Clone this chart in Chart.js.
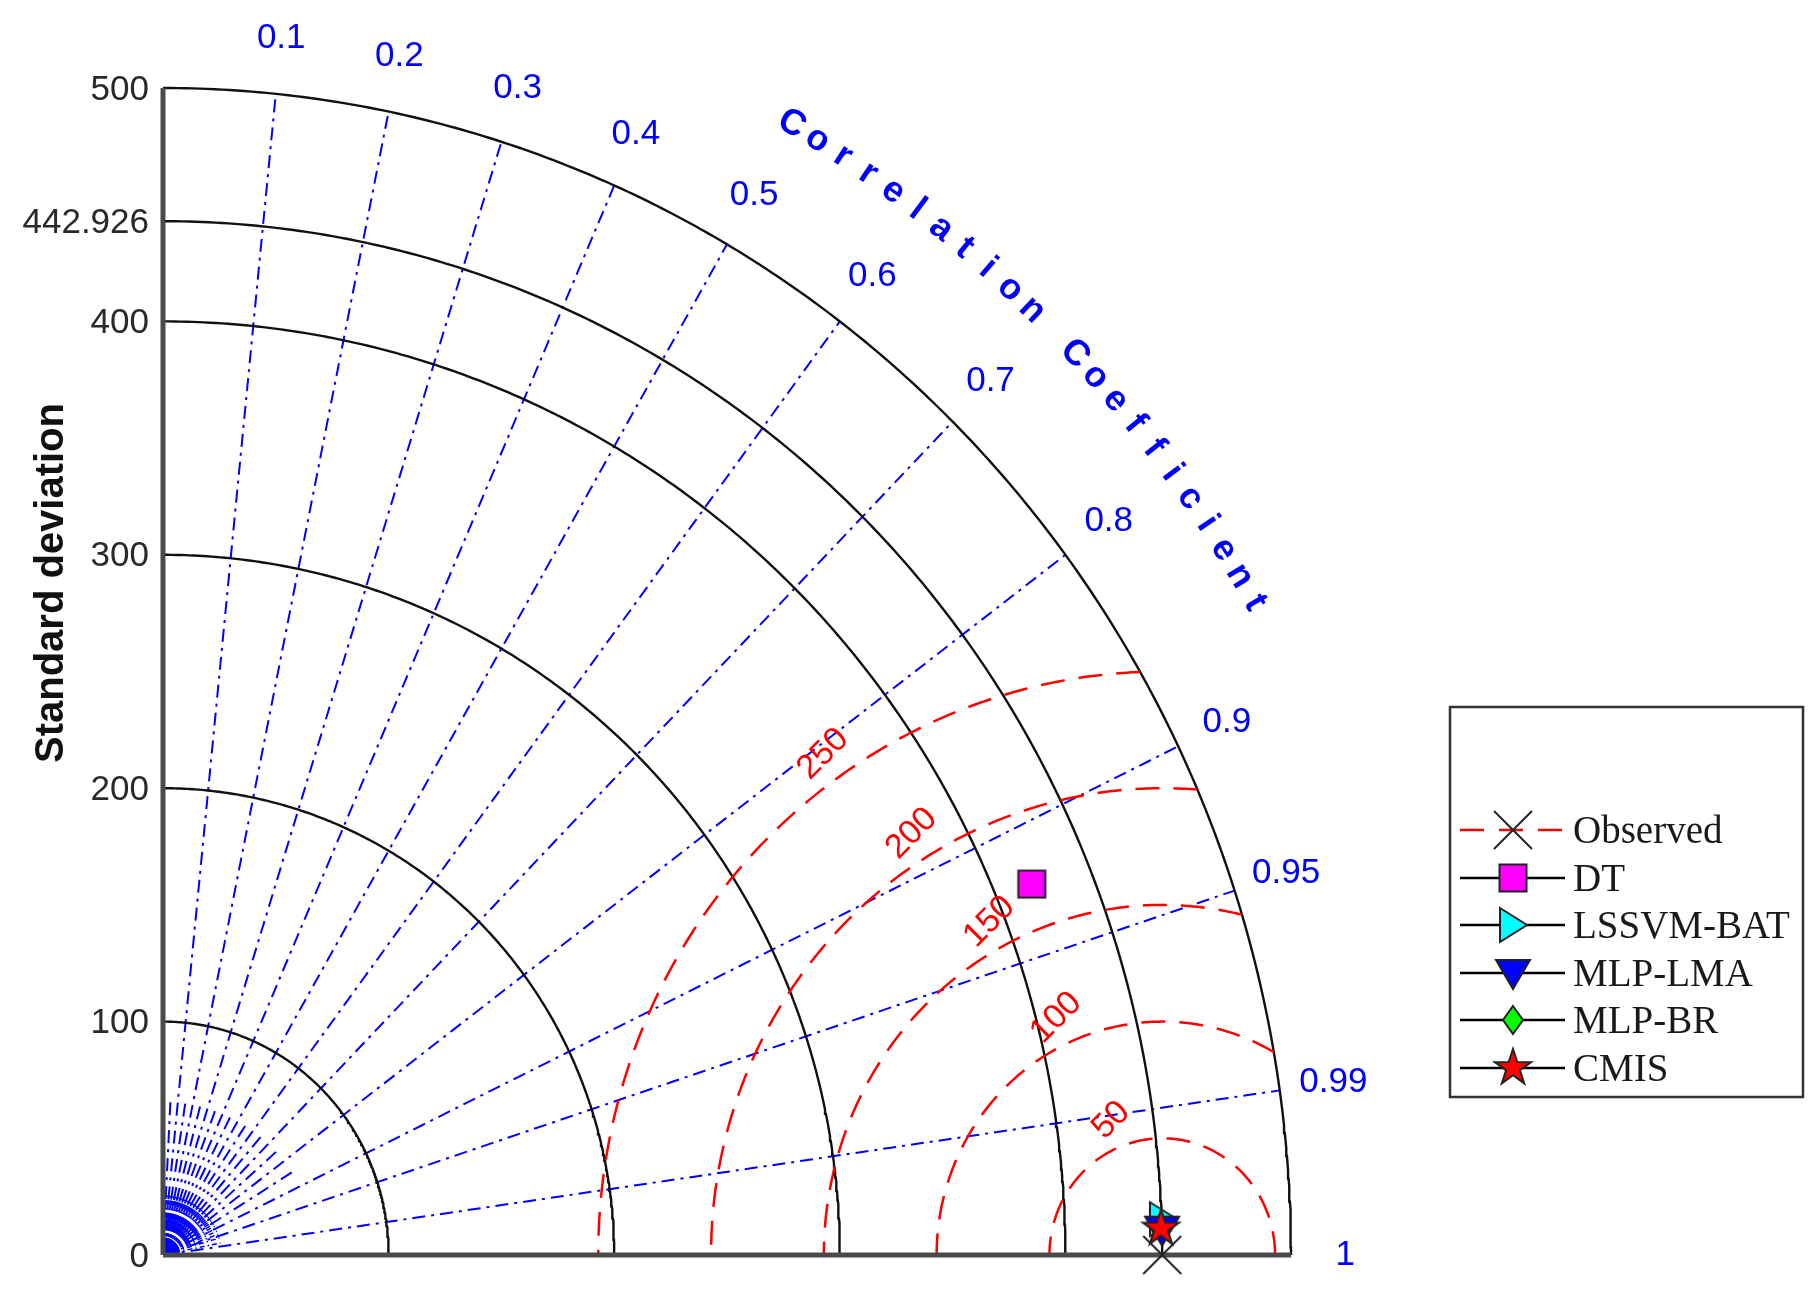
<!DOCTYPE html>
<html lang="en">
<head>
  <meta charset="UTF-8">
  <title>Taylor diagram</title>
  <script src="https://cdn.jsdelivr.net/npm/chart.js"></script>
  <style>
    body { margin: 0; background: #fff; }
    #wrap { width: 1820px; height: 1299px; }
  </style>
</head>
<body>
  <div id="wrap"><canvas id="taylor" width="1820" height="1299"></canvas></div>

  <script>
    // ---- data ----
    const models = ["DT", "LSSVM-BAT", "MLP-LMA", "MLP-BR", "CMIS"];
    const modelStd = [416.6, 443.5, 443.0, 442.5, 442.5];
    const modelCorr = [0.9244, 0.9994, 0.9997, 0.99967, 0.99967];
    const obsLabel = "Observed";
    const obsStd = 442.926;

    const stdTicks = [0, 100, 200, 300, 400, 442.926, 500];
    const stdArcs = [100, 200, 300, 400, 442.926, 500];
    const corrTicks = [0.1, 0.2, 0.3, 0.4, 0.5, 0.6, 0.7, 0.8, 0.9, 0.95, 0.99];
    const corrMinor = [0.05, 0.15, 0.25, 0.35, 0.45, 0.55, 0.65, 0.75, 0.85];
    const rmsLevels = [50, 100, 150, 200, 250];
    const stdMax = 500;

    const BLUE = "#0000ff";
    const RED = "#ff0000";
    const SANS = "'Liberation Sans', Arial, sans-serif";
    const SERIF = "'Liberation Serif', 'Times New Roman', serif";

    // marker images (MATLAB-like symbols)
    function marker(kind, fill) {
      const c = document.createElement("canvas");
      c.width = 46; c.height = 46;
      const g = c.getContext("2d");
      g.translate(23, 23);
      g.lineWidth = 2;
      g.strokeStyle = "#222";
      g.fillStyle = fill;
      g.beginPath();
      if (kind === "square") g.rect(-13.5, -13.5, 27, 27);
      else if (kind === "right") { g.moveTo(-13, -17); g.lineTo(14, 0); g.lineTo(-13, 17); g.closePath(); }
      else if (kind === "down") { g.moveTo(-17, -13); g.lineTo(17, -13); g.lineTo(0, 16); g.closePath(); }
      else if (kind === "diamond") { g.moveTo(0, -14); g.lineTo(10, 0); g.lineTo(0, 14); g.lineTo(-10, 0); g.closePath(); }
      else if (kind === "star") {
        for (let i = 0; i < 10; i++) {
          const r = i % 2 ? 7.3 : 19;
          const a = -Math.PI / 2 + i * Math.PI / 5;
          g.lineTo(r * Math.cos(a), r * Math.sin(a));
        }
        g.closePath();
      } else if (kind === "x") {
        g.moveTo(-19, -19); g.lineTo(19, 19);
        g.moveTo(19, -19); g.lineTo(-19, 19);
        g.stroke();
        return c;
      }
      g.fill();
      g.stroke();
      return c;
    }

    const modelMarkers = [
      marker("square", "#ff00ff"),
      marker("right", "#00ffff"),
      marker("down", "#0000ff"),
      marker("diamond", "#00ff00"),
      marker("star", "#ff0000")
    ];
    const obsMarker = marker("x", "#000");

    const polar = (s, c) => ({ x: s * c, y: s * Math.sqrt(Math.max(0, 1 - c * c)) });

    const datasets = [];

    // model points (CMIS on top, MLP-BR hidden under it)
    const drawRank = [4, 3, 1, 2, 0];
    models.forEach((name, i) => {
      datasets.push({
        label: name,
        data: [polar(modelStd[i], modelCorr[i])],
        pointStyle: modelMarkers[i],
        pointRadius: 18,
        showLine: false,
        clip: false,
        order: drawRank[i]
      });
    });
    datasets.push({
      label: obsLabel,
      data: [polar(obsStd, 1)],
      pointStyle: obsMarker,
      pointRadius: 18,
      showLine: false,
      clip: false,
      order: 6
    });

    // axes
    datasets.push({ data: [{ x: 0, y: 0 }, { x: stdMax, y: 0 }], showLine: true, borderColor: "#4a4a4a", borderWidth: 5, pointRadius: 0, clip: false, order: 8 });
    datasets.push({ data: [{ x: 0, y: 0 }, { x: 0, y: stdMax }], showLine: true, borderColor: "#4a4a4a", borderWidth: 5, pointRadius: 0, clip: false, order: 8 });

    // RMS arcs around the observed point, kept inside the outer circle
    rmsLevels.forEach(R => {
      const cosEnd = (stdMax * stdMax - obsStd * obsStd - R * R) / (2 * obsStd * R);
      const t0 = cosEnd >= 1 ? 0 : Math.acos(cosEnd);
      const pts = [];
      for (let k = 0; k <= 200; k++) {
        const t = t0 + (Math.PI - t0) * k / 200;
        pts.push({ x: obsStd + R * Math.cos(t), y: R * Math.sin(t) });
      }
      datasets.push({ data: pts, showLine: true, borderColor: RED, borderWidth: 2.5, borderDash: [24, 14], pointRadius: 0, clip: false, order: 10 });
    });

    // standard deviation arcs
    stdArcs.forEach(s => {
      const pts = [];
      for (let k = 0; k <= 240; k++) {
        const t = (Math.PI / 2) * k / 240;
        pts.push({ x: s * Math.cos(t), y: s * Math.sin(t) });
      }
      datasets.push({ data: pts, showLine: true, borderColor: "#111", borderWidth: 2.4, pointRadius: 0, clip: false, order: 11 });
    });

    // correlation rays
    corrTicks.forEach(c => {
      datasets.push({ data: [{ x: 0, y: 0 }, polar(stdMax, c)], showLine: true, borderColor: BLUE, borderWidth: 2, borderDash: [13, 6, 3, 6], pointRadius: 0, clip: false, order: 12 });
    });
    corrMinor.forEach(c => {
      datasets.push({ data: [{ x: 0, y: 0 }, polar(68, c)], showLine: true, borderColor: BLUE, borderWidth: 2, borderDash: [13, 6, 3, 6], pointRadius: 0, clip: false, order: 12 });
    });

    const textPlugin = {
      id: "taylorText",
      beforeDatasetsDraw(chart) {
        const { ctx, scales: { x, y } } = chart;
        const px = (s, c) => { const p = polar(s, c); return [x.getPixelForValue(p.x), y.getPixelForValue(p.y)]; };
        ctx.save();
        // fine correlation ticks near the origin
        ctx.strokeStyle = BLUE;
        ctx.lineWidth = 1.5;
        ctx.setLineDash([5, 3, 1.5, 3]);
        for (let k = 1; k < 50; k++) {
          const c = k / 50;
          const a = px(0, c), b = px(26, c);
          ctx.beginPath(); ctx.moveTo(a[0], a[1]); ctx.lineTo(b[0], b[1]); ctx.stroke();
        }
        ctx.setLineDash([]);
        ctx.fillStyle = BLUE;
        ctx.beginPath();
        ctx.moveTo(x.getPixelForValue(0), y.getPixelForValue(0));
        for (let k = 0; k <= 20; k++) {
          const p = px(7, Math.cos((Math.PI / 2) * k / 20));
          ctx.lineTo(p[0], p[1]);
        }
        ctx.closePath();
        ctx.fill();
        ctx.restore();
      },
      afterDraw(chart) {
        const { ctx, scales: { x, y } } = chart;
        const px = (s, c) => { const p = polar(s, c); return [x.getPixelForValue(p.x), y.getPixelForValue(p.y)]; };
        ctx.save();

        // std tick labels
        ctx.font = "35px " + SANS;
        ctx.fillStyle = "#2a2a2a";
        ctx.textAlign = "right";
        ctx.textBaseline = "middle";
        stdTicks.forEach(v => ctx.fillText(String(v), x.getPixelForValue(0) - 14, y.getPixelForValue(v) + 2));

        // y title
        ctx.save();
        ctx.translate(52, 583);
        ctx.rotate(-Math.PI / 2);
        ctx.font = "bold 40px " + SANS;
        ctx.fillStyle = "#111";
        ctx.textAlign = "center";
        ctx.fillText("Standard deviation", 0, 0);
        ctx.restore();

        // correlation labels
        ctx.font = "35px " + SANS;
        ctx.fillStyle = BLUE;
        ctx.textAlign = "center";
        corrTicks.concat([1]).forEach(c => {
          const p = px(524, c);
          ctx.fillText(String(c), p[0], p[1]);
        });

        // curved title
        const title = "Correlation Coefficient";
        ctx.font = "bold 36px " + SANS;
        const a0 = 60.1, a1 = 30;
        for (let i = 0; i < title.length; i++) {
          const th = a0 - (a0 - a1) * i / (title.length - 1);
          const p = px(559, Math.cos(th * Math.PI / 180));
          ctx.save();
          ctx.translate(p[0], p[1]);
          ctx.rotate((90 - th) * Math.PI / 180);
          ctx.fillText(title[i], 0, 0);
          ctx.restore();
        }

        // RMS labels
        ctx.font = "34px " + SANS;
        ctx.fillStyle = RED;
        rmsLevels.forEach(R => {
          const phi = (108 + 0.068 * R) * Math.PI / 180;
          const lx = x.getPixelForValue(obsStd + (R + 12) * Math.cos(phi));
          const ly = y.getPixelForValue((R + 12) * Math.sin(phi));
          ctx.save();
          ctx.translate(lx, ly);
          ctx.rotate(-Math.PI / 4);
          ctx.fillText(String(R), 0, 0);
          ctx.restore();
        });

        // legend
        ctx.strokeStyle = "#333";
        ctx.lineWidth = 2.5;
        ctx.strokeRect(1450, 707, 353, 390);
        const rows = [830, 878, 925, 973, 1020, 1068];
        const names = [obsLabel].concat(models);
        const marks = [obsMarker].concat(modelMarkers);
        ctx.font = "39px " + SERIF;
        ctx.textAlign = "left";
        names.forEach((n, i) => {
          const ry = rows[i];
          ctx.beginPath();
          if (i === 0) { ctx.strokeStyle = RED; ctx.lineWidth = 2.5; ctx.setLineDash([24, 15]); }
          else { ctx.strokeStyle = "#000"; ctx.lineWidth = 2.5; ctx.setLineDash([]); }
          ctx.moveTo(1460, ry); ctx.lineTo(1565, ry); ctx.stroke();
          ctx.setLineDash([]);
          const m = marks[i];
          ctx.drawImage(m, 1513 - m.width / 2, ry - m.height / 2);
          ctx.fillStyle = "#1a1a1a";
          ctx.fillText(n, 1573, ry + 3);
        });

        ctx.restore();
      }
    };

    new Chart(document.getElementById("taylor"), {
      type: "scatter",
      data: { datasets: datasets },
      options: {
        responsive: false,
        animation: false,
        events: [],
        layout: { padding: { left: 163, right: 529, top: 88, bottom: 44 } },
        plugins: { legend: { display: false }, tooltip: { enabled: false } },
        scales: {
          x: { type: "linear", min: 0, max: stdMax, display: false },
          y: { type: "linear", min: 0, max: stdMax, display: false }
        }
      },
      plugins: [textPlugin]
    });
  </script>
</body>
</html>
